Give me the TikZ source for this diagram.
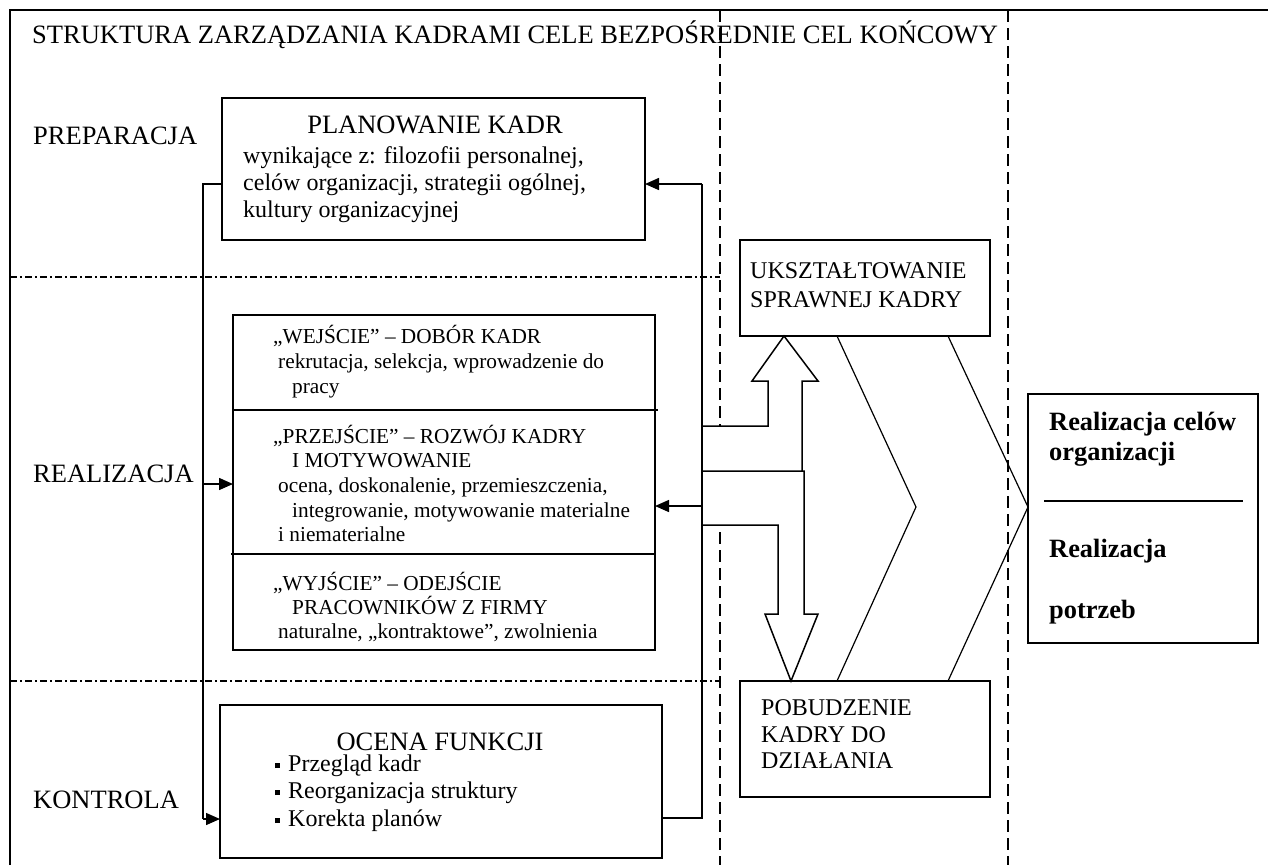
\documentclass[tikz,border=0pt]{standalone}
\usepackage{fontspec}
\setmainfont{Liberation Serif}
\usetikzlibrary{arrows.meta}
\begin{document}
\begin{tikzpicture}[x=1pt,y=-1pt,
  box/.style={draw,line width=1.5pt,inner sep=0pt,outer sep=0pt,anchor=north west},
  lbl/.style={inner sep=0pt,anchor=base west},
  ctr/.style={inner sep=0pt,anchor=base},
  big/.style={font=\fontsize{26.5}{30}\selectfont},
  med/.style={font=\fontsize{24}{27}\selectfont},
  sml/.style={font=\fontsize{21.3}{25}\selectfont},
  bld/.style={font=\fontsize{26.4}{30}\selectfont\bfseries},
  conn/.style={line width=1.5pt},
  tipa/.style={-{Triangle[length=14pt,width=12pt]}},
  sepline/.style={line width=1.5pt,dash pattern=on 7pt off 3pt on 2pt off 3pt},
  colline/.style={line width=1.5pt,dash pattern=on 12pt off 6pt},
  hollow/.style={line width=1.5pt,line join=miter},
  chev/.style={line width=1.2pt},
]
\useasboundingbox (0,0) rectangle (1268,865);
% frame and guide lines
\draw[line width=2pt] (10,865) -- (10,10) -- (1268,10);
\draw[colline] (720,10) -- (720,865);
\draw[colline] (1008,10) -- (1008,865);
\draw[sepline] (10,277) -- (720,277);
\draw[sepline] (10,681) -- (720,681);

% boxes
\node[box,minimum width=423pt,minimum height=142pt] (plan) at (222,98) {};
\node[box,minimum width=422pt,minimum height=335pt] (real) at (233,315) {};
\node[box,minimum width=442pt,minimum height=153pt] (ocena) at (220,705) {};
\node[box,minimum width=250pt,minimum height=96pt] (ukszt) at (740,240) {};
\node[box,minimum width=250pt,minimum height=116pt] (pobud) at (740,681) {};
\node[box,line width=2.5pt,minimum width=230pt,minimum height=249pt] (cel) at (1028,394) {};
\draw[conn] (233,410) -- (658,410);
\draw[conn] (231,554) -- (656,554);
\draw[line width=2pt] (1044,501) -- (1243,501);

% hollow arrows
\fill[white] (702,426) -- (768,426) -- (768,381) -- (752,381) -- (784,336) -- (818,381) -- (802,381) -- (802,471) -- (702,471) -- cycle;
\fill[white] (702,471) -- (804,471) -- (804,614) -- (818,614) -- (791,681) -- (765,614) -- (778,614) -- (778,525) -- (702,525) -- cycle;
\draw[hollow] (702,426) -- (768,426) -- (768,381) -- (752,381) -- (784,336) -- (818,381) -- (802,381) -- (802,471) -- (702,471);
\draw[hollow] (702,525) -- (778,525) -- (778,614) -- (765,614) -- (791,681) -- (818,614) -- (804,614) -- (804,471) -- (802,471);

% chevrons
\draw[chev] (837,336) -- (916,507) -- (837,681);
\draw[chev] (948,336) -- (1028,507) -- (948,681);

% connectors
\coordinate (fbL) at (203,184);
\coordinate (fbB) at (203,819);
\coordinate (fbM) at (203,484);
\draw[conn] (plan.west |- fbL) -- (fbL) -- (fbB);
\draw[conn,tipa] (fbB) -- (ocena.west |- fbB);
\draw[conn,tipa] (fbM) -- (real.west |- fbM);
\coordinate (rtB) at (702,818);
\coordinate (rtT) at (702,184);
\coordinate (rtM) at (702,506);
\draw[conn] (ocena.east |- rtB) -- (rtB) -- (rtT);
\draw[conn,tipa] (rtT) -- (plan.east |- rtT);
\draw[conn,tipa] (rtM) -- (real.east |- rtM);

% texts
\node[lbl,big] (title) at (32,43) {STRUKTURA ZARZĄDZANIA KADRAMI CELE BEZPOŚREDNIE CEL KOŃCOWY};
\node[lbl,big] (prep) at (33,144) {PREPARACJA};
\node[lbl,big] (reallbl) at (33,482) {REALIZACJA};
\node[lbl,big] (kontr) at (33,808) {KONTROLA};

\node[ctr,big] (planh) at (435,133) {PLANOWANIE KADR};
\node[lbl,med] (plan1) at (243,163) {wynikające z: filozofii personalnej,};
\node[lbl,med] (plan2) at (243,190) {celów organizacji, strategii ogólnej,};
\node[lbl,med] (plan3) at (243,217) {kultury organizacyjnej};

\node[lbl,sml] (r1) at (273,343) {„WEJŚCIE” – DOBÓR KADR};
\node[lbl,sml] (r2) at (278,368) {rekrutacja, selekcja, wprowadzenie do};
\node[lbl,sml] (r3) at (292,393) {pracy};
\node[lbl,sml] (r4) at (273,443) {„PRZEJŚCIE” – ROZWÓJ KADRY};
\node[lbl,sml] (r5) at (292,467) {I MOTYWOWANIE};
\node[lbl,sml] (r6) at (278,492) {ocena, doskonalenie, przemieszczenia,};
\node[lbl,sml] (r7) at (292,517) {integrowanie, motywowanie materialne};
\node[lbl,sml] (r8) at (278,541) {i niematerialne};
\node[lbl,sml] (r9) at (273,590) {„WYJŚCIE” – ODEJŚCIE};
\node[lbl,sml] (r10) at (292,614) {PRACOWNIKÓW Z FIRMY};
\node[lbl,sml] (r11) at (278,638) {naturalne, „kontraktowe”, zwolnienia};

\node[lbl,med] (u1) at (750,278) {UKSZTAŁTOWANIE};
\node[lbl,med] (u2) at (750,307) {SPRAWNEJ KADRY};

\node[lbl,med] (p1) at (761,715) {POBUDZENIE};
\node[lbl,med] (p2) at (761,742) {KADRY DO};
\node[lbl,med] (p3) at (761,768) {DZIAŁANIA};

\node[ctr,big] (oh) at (440,750) {OCENA FUNKCJI};
\node[lbl,med] (o1) at (275,771) {\rule[3pt]{5pt}{5pt}\hspace{8pt}Przegląd kadr};
\node[lbl,med] (o2) at (275,798) {\rule[3pt]{5pt}{5pt}\hspace{8pt}Reorganizacja struktury};
\node[lbl,med] (o3) at (275,826) {\rule[3pt]{5pt}{5pt}\hspace{8pt}Korekta planów};

\node[lbl,bld] (c1) at (1049,430) {Realizacja celów};
\node[lbl,bld] (c2) at (1049,460) {organizacji};
\node[lbl,bld] (c3) at (1049,557) {Realizacja};
\node[lbl,bld] (c4) at (1049,618) {potrzeb};
\end{tikzpicture}
\end{document}
